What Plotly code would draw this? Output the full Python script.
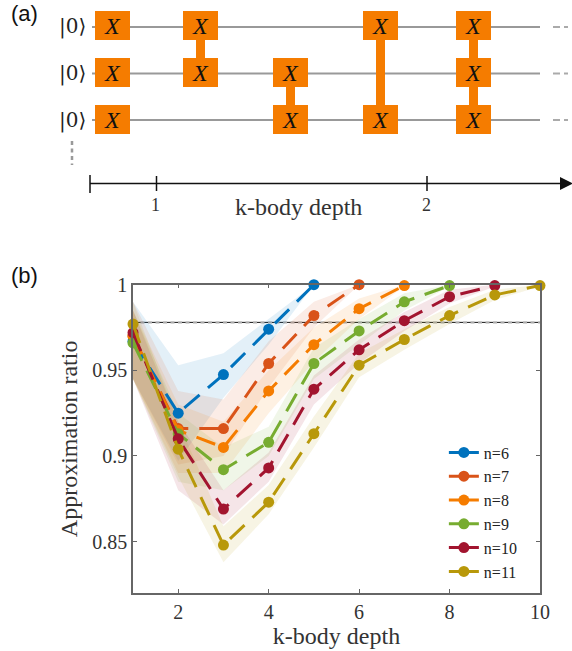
import plotly.graph_objects as go

W, H = 572, 651
SERIF = "Liberation Serif"
TEXT = "#333333"

# ---------- panel (b) data ----------
names = ["n=6", "n=7", "n=8", "n=9", "n=10", "n=11"]
colors = ["#0072BD", "#D95319", "#F57C00", "#77AC30", "#A2142F", "#B8980A"]
threshold = 0.978

n6 = [0.967, 0.925, 0.9475, 0.974, 1.0]
n7 = [0.970, 0.916, 0.916, 0.954, 0.982, 1.0]
n8 = [0.970, 0.915, 0.905, 0.938, 0.965, 0.986, 0.9995]
n9 = [0.966, 0.913, 0.892, 0.908, 0.954, 0.973, 0.990, 0.9995]
n10 = [0.972, 0.910, 0.869, 0.893, 0.939, 0.962, 0.979, 0.993, 0.9995]
n11 = [0.977, 0.904, 0.848, 0.873, 0.913, 0.953, 0.968, 0.982, 0.994, 0.9995]

up6 = [0.990, 0.953, 0.960, 0.980, 1.0]
lo6 = [0.945, 0.897, 0.934, 0.965, 1.0]
up7 = [0.990, 0.938, 0.933, 0.967, 0.990, 1.0]
lo7 = [0.945, 0.895, 0.900, 0.940, 0.975, 1.0]
up8 = [0.985, 0.930, 0.920, 0.950, 0.975, 0.992, 1.0]
lo8 = [0.945, 0.890, 0.890, 0.925, 0.955, 0.980, 0.999]
up9 = [0.985, 0.925, 0.905, 0.917, 0.963, 0.980, 0.995, 1.0]
lo9 = [0.945, 0.885, 0.880, 0.900, 0.945, 0.965, 0.985, 0.999]
up10 = [0.985, 0.920, 0.880, 0.902, 0.947, 0.968, 0.984, 0.997, 1.0]
lo10 = [0.945, 0.880, 0.860, 0.885, 0.930, 0.954, 0.973, 0.989, 0.999]
up11 = [0.990, 0.920, 0.859, 0.883, 0.923, 0.960, 0.974, 0.987, 0.997, 1.0]
lo11 = [0.945, 0.888, 0.838, 0.866, 0.905, 0.946, 0.962, 0.977, 0.991, 0.999]

means = [n6, n7, n8, n9, n10, n11]
uppers = [up6, up7, up8, up9, up10, up11]
lowers = [lo6, lo7, lo8, lo9, lo10, lo11]

x_ticks = [2, 4, 6, 8, 10]
y_ticks = [0.85, 0.9, 0.95, 1]
y_tick_labels = ["0.85", "0.9", "0.95", "1"]

# ---------- panel (a) data ----------
wire_y = [27, 73.5, 120]
gate_y = [25.5, 72.5, 119.5]
gate_x = [112.5, 200.5, 290.5, 380.5, 473.5]
gate_rows = [[0], [0, 1], [1, 2], [0, 2], [0, 1, 2]]
first_col_rows = [0, 1, 2]
depth_ticks = [156.5, 427]
depth_labels = ["1", "2"]
ORANGE = "#F57C00"


def hex_rgba(c, a):
    return f"rgba({int(c[1:3],16)},{int(c[3:5],16)},{int(c[5:7],16)},{a})"


fig = go.Figure()

# threshold line
fig.add_trace(go.Scatter(x=[1, 10], y=[threshold, threshold], mode="lines",
                         line=dict(color="#111111", width=1), showlegend=False, hoverinfo="skip"))
fig.add_trace(go.Scatter(x=[1, 10], y=[threshold, threshold], mode="lines",
                         line=dict(color="#aaaaaa", width=2, dash="4px,3.5px"), showlegend=False, hoverinfo="skip"))

# bands
for c, up, lo in zip(colors, uppers, lowers):
    xs = list(range(1, len(up) + 1))
    fig.add_trace(go.Scatter(x=xs + xs[::-1], y=up + lo[::-1], mode="lines", fill="toself",
                             fillcolor=hex_rgba(c, 0.11), line=dict(width=0),
                             showlegend=False, hoverinfo="skip"))

# dashed series
for c, m in zip(colors, means):
    xs = list(range(1, len(m) + 1))
    fig.add_trace(go.Scatter(x=xs, y=m, mode="lines+markers", cliponaxis=False,
                             line=dict(color=c, width=3, dash="20px,11px"),
                             marker=dict(color=c, size=11), showlegend=False))

# legend entries: solid samples
for nm, c in zip(names, colors):
    fig.add_trace(go.Scatter(x=[None], y=[None], mode="lines+markers", name=nm,
                             line=dict(color=c, width=3), marker=dict(color=c, size=11)))

shapes = []
ann = []


def rect(x0, y0, x1, y1, color):
    shapes.append(dict(type="rect", xref="x2", yref="y2", x0=x0, y0=y0, x1=x1, y1=y1,
                       fillcolor=color, line=dict(width=0)))


def line(x0, y0, x1, y1, color, width, dash="solid"):
    shapes.append(dict(type="line", xref="x2", yref="y2", x0=x0, y0=y0, x1=x1, y1=y1,
                       line=dict(color=color, width=width, dash=dash)))


def text(x, y, s, size, font=SERIF, color=TEXT, xanchor="center"):
    ann.append(dict(xref="x2", yref="y2", x=x, y=y, text=s, showarrow=False, xanchor=xanchor,
                    yanchor="middle", font=dict(family=font, size=size, color=color)))


# wires
for wy, gy in zip(wire_y, gate_y):
    line(92, wy, 540, wy, "#999999", 2)
    line(553, wy, 560, wy, "#aaaaaa", 2)
    line(564, wy, 568, wy, "#aaaaaa", 2)
    text(72, gy + 0.5, "|0⟩", 20, font="DejaVu Serif", color="#222222")

# gates: first column stands alone on each wire, later columns are joined
for r in first_col_rows:
    rect(gate_x[0] - 17.5, gate_y[r] - 14.5, gate_x[0] + 17.5, gate_y[r] + 14.5, ORANGE)
    text(gate_x[0], gate_y[r], "<i>X</i>", 24, color="#111111")
for gx, rows in list(zip(gate_x, gate_rows))[1:]:
    rect(gx - 4.5, gate_y[rows[0]], gx + 4.5, gate_y[rows[-1]], ORANGE)
    for r in rows:
        rect(gx - 17.5, gate_y[r] - 14.5, gx + 17.5, gate_y[r] + 14.5, ORANGE)
        text(gx, gate_y[r], "<i>X</i>", 24, color="#111111")

# vertical dots
line(72, 141, 72, 165, "#999999", 2.5, dash="4px,3.5px")

# depth axis
line(90, 183.5, 562, 183.5, "#111111", 1.5)
line(90, 175, 90, 193, "#111111", 1.5)
for t, lab in zip(depth_ticks, depth_labels):
    line(t, 176, t, 191, "#111111", 1.5)
    text(t - 1, 205, lab, 18)
shapes.append(dict(type="path", xref="x2", yref="y2", path="M 560 177 L 573 183.5 L 560 190 Z",
                   fillcolor="#111111", line=dict(width=0)))
text(298.5, 207, "k-body depth", 24)

text(24.5, 13, "(a)", 22, font="Liberation Sans", color="#111111")
text(24.5, 275, "(b)", 22, font="Liberation Sans", color="#111111")

AX = "#666666"
fig.update_layout(
    width=W, height=H, autosize=False,
    margin=dict(l=0, r=0, t=0, b=0),
    plot_bgcolor="rgba(0,0,0,0)", paper_bgcolor="white",
    shapes=shapes, annotations=ann,
    font=dict(family=SERIF, color=TEXT),
    legend=dict(x=0.776, y=0.331, xanchor="left", yanchor="top", bgcolor="rgba(0,0,0,0)",
                font=dict(family=SERIF, size=16, color="#222222"), itemwidth=30,
                tracegroupgap=0),
    xaxis=dict(domain=[133 / W, 540 / W], range=[1, 10], tickvals=x_ticks, ticks="inside", ticklen=4,
               tickcolor=AX, linecolor=AX, linewidth=1.5, mirror="ticks", showgrid=False, zeroline=False,
               automargin=False,
               tickfont=dict(size=20, family=SERIF, color=TEXT),
               title=dict(text="k-body depth", font=dict(size=24, family=SERIF, color=TEXT), standoff=4)),
    yaxis=dict(domain=[(H - 593) / H, (H - 284.7) / H], range=[0.82, 1.0], tickvals=y_ticks,
               ticktext=y_tick_labels, ticks="inside", ticklen=4, tickcolor=AX, linecolor=AX, linewidth=1.5,
               mirror="ticks", showgrid=False, zeroline=False,
               automargin=False,
               tickfont=dict(size=20, family=SERIF, color=TEXT),
               title=dict(text="Approximation ratio", font=dict(size=24, family=SERIF, color=TEXT), standoff=8)),
    xaxis2=dict(domain=[0, 1], range=[0, W], visible=False, anchor="y2", fixedrange=True, automargin=False),
    yaxis2=dict(domain=[0, 1], range=[H, 0], visible=False, anchor="x2", fixedrange=True, automargin=False),
)
# keep the overlay axes alive so shapes and annotations resolve against them
fig.add_trace(go.Scatter(x=[None], y=[None], xaxis="x2", yaxis="y2", showlegend=False, hoverinfo="skip"))

fig.write_html("out.html", config={"displayModeBar": False},
               post_script="document.body.style.margin='0';document.body.style.overflow='hidden';")
